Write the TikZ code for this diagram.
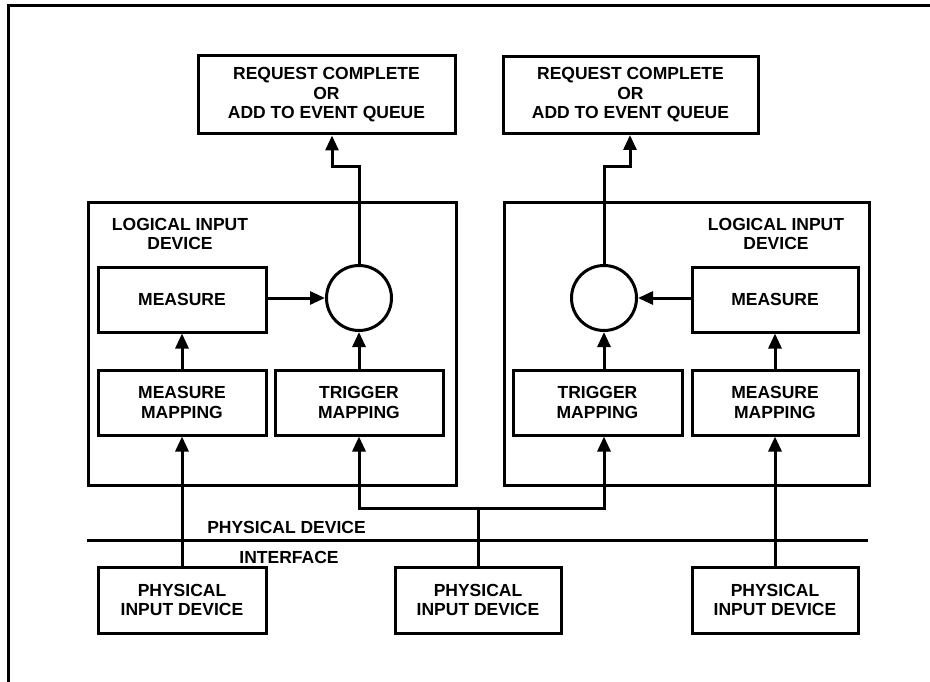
\documentclass[tikz,border=0pt]{standalone}
\usepackage{fontspec}
\setmainfont{Liberation Sans}
\usetikzlibrary{arrows.meta,calc}
\begin{document}
\begin{tikzpicture}[x=1pt,y=-1pt,
  every node/.style={font=\fontsize{17.5}{19.5}\selectfont\bfseries, align=center, inner sep=0pt},
  box/.style={draw, line width=3pt, rectangle},
  circ/.style={draw, line width=3pt, circle, minimum size=65pt},
  lbl/.style={},
  wire/.style={line width=3pt},
  arr/.style={line width=3pt, -{Triangle[length=15pt,width=13pt]}},
  frame/.style={line width=3pt}
]
\useasboundingbox (0,0) rectangle (930,682);
% outer frame (left and top only)
\coordinate (fb) at (8,682);
\coordinate (fc) at (8,6);
\coordinate (fr) at (930,6);
\draw[frame] (fb) -- (fc) -- (fr);

% top boxes
\node[box, minimum width=257pt, minimum height=78pt] (req1) at (326.5,95)
  {REQUEST COMPLETE\\OR\\ADD TO EVENT QUEUE};
\node[box, minimum width=255pt, minimum height=77pt] (req2) at (630.5,95)
  {REQUEST COMPLETE\\OR\\ADD TO EVENT QUEUE};

% logical input device boxes
\node[box, minimum width=368pt, minimum height=282pt] (logL) at (272,344) {};
\node[box, minimum width=365pt, minimum height=282pt] (logR) at (686.5,344) {};
\node[lbl] (tL) at (180,234) {LOGICAL INPUT\\DEVICE};
\node[lbl] (tR) at (776,234) {LOGICAL INPUT\\DEVICE};

% left device internals
\node[box, minimum width=168pt, minimum height=65pt] (measL) at (182,299.5) {MEASURE};
\node[circ] (circL) at (359,298) {};
\node[box, minimum width=168pt, minimum height=65pt] (mmapL) at (182,402.5) {MEASURE\\MAPPING};
\node[box, minimum width=168pt, minimum height=65pt] (tmapL) at (359,402.5) {TRIGGER\\MAPPING};

% right device internals
\node[circ] (circR) at (604,298) {};
\node[box, minimum width=166pt, minimum height=65pt] (measR) at (775,299.5) {MEASURE};
\node[box, minimum width=169pt, minimum height=65pt] (tmapR) at (597.5,402.5) {TRIGGER\\MAPPING};
\node[box, minimum width=166pt, minimum height=65pt] (mmapR) at (775,402.5) {MEASURE\\MAPPING};

% physical input devices
\node[box, minimum width=168pt, minimum height=66pt] (pidL) at (182,600) {PHYSICAL\\INPUT DEVICE};
\node[box, minimum width=166pt, minimum height=66pt] (pidM) at (478,600) {PHYSICAL\\INPUT DEVICE};
\node[box, minimum width=166pt, minimum height=66pt] (pidR) at (775,600) {PHYSICAL\\INPUT DEVICE};

% interface line and labels
\coordinate (ifL) at (87,540);
\coordinate (ifR) at (868,540);
\draw[wire] (ifL) -- (ifR);
\node[lbl] (pdev) at (286.5,527) {PHYSICAL DEVICE};
\node[lbl] (intf) at (289,557) {INTERFACE};

% connectors, left device
\draw[arr] (pidL.north) -- (mmapL.south);
\draw[arr] (mmapL.north) -- (measL.south);
\draw[arr] (tmapL.north) -- (circL.south);
\draw[arr] (measL.east |- circL.center) -- (circL.west);
\coordinate (jL) at (332,167);
\draw[arr] (circL.north) |- (jL) -- (jL |- req1.south);

% connectors, right device
\draw[arr] (pidR.north) -- (mmapR.south);
\draw[arr] (mmapR.north) -- (measR.south);
\draw[arr] (tmapR.north -| circR.center) -- (circR.south);
\draw[arr] (measR.west |- circR.center) -- (circR.east);
\coordinate (jR) at (630,167);
\draw[arr] (circR.north) |- (jR) -- (jR |- req2.south);

% shared trigger from middle physical device
\coordinate (jM) at (478,508);
\draw[wire] (pidM.north) -- (jM);
\draw[arr] (jM) -| (tmapL.south);
\draw[arr] (jM) -| (tmapR.south -| circR.center);
\end{tikzpicture}
\end{document}
